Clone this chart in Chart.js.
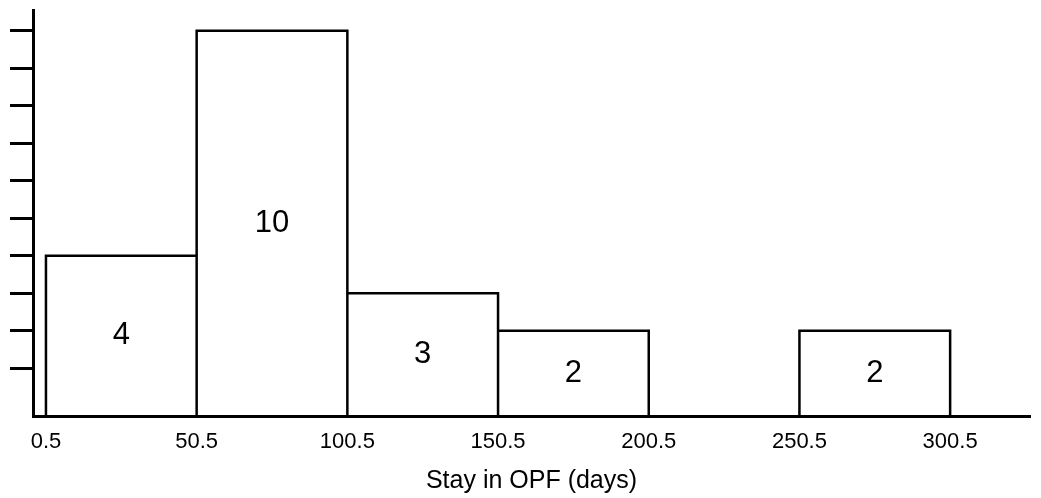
<!DOCTYPE html>
<html>
<head>
<meta charset="utf-8">
<script src="https://cdn.jsdelivr.net/npm/chart.js@4"></script>
<style>
  html, body { margin: 0; padding: 0; background: #fff; }
  #wrap { width: 1041px; height: 498px; }
</style>
</head>
<body>
<div id="wrap"><canvas id="c" width="1041" height="498"></canvas></div>
<script>
const binEdges = [0.5, 50.5, 100.5, 150.5, 200.5, 250.5, 300.5];
const counts = [4, 10, 3, 2, 0, 2];
const xTickValues = [0.5, 50.5, 100.5, 150.5, 200.5, 250.5, 300.5];
const yTickValues = [1, 2, 3, 4, 5, 6, 7, 8, 9, 10];
const xTitle = 'Stay in OPF (days)';

const Y_MIN = -0.27, Y_MAX = 10.55;
const FONT = '"Liberation Sans", Arial, sans-serif';

const outline = [];
counts.forEach((c, i) => {
  if (c <= 0) return;
  const l = binEdges[i], r = binEdges[i + 1];
  outline.push({x: l, y: Y_MIN}, {x: l, y: c}, {x: r, y: c}, {x: r, y: Y_MIN}, {x: r, y: null});
});

const barLabels = {
  id: 'barLabels',
  afterDatasetsDraw(chart) {
    const {ctx, scales: {x, y}} = chart;
    ctx.save();
    ctx.fillStyle = '#000';
    ctx.font = '31px ' + FONT;
    ctx.textAlign = 'center';
    ctx.textBaseline = 'middle';
    counts.forEach((c, i) => {
      if (c <= 0) return;
      const cx = x.getPixelForValue((binEdges[i] + binEdges[i + 1]) / 2);
      const cy = y.getPixelForValue((c + Y_MIN) / 2);
      ctx.fillText(String(c), cx, cy);
    });
    ctx.restore();
  }
};

new Chart(document.getElementById('c'), {
  type: 'scatter',
  data: {
    datasets: [{
      data: outline,
      showLine: true,
      spanGaps: false,
      borderColor: '#000',
      borderWidth: 2.5,
      pointRadius: 0,
      pointHoverRadius: 0,
      tension: 0
    }]
  },
  options: {
    responsive: false,
    animation: false,
    events: [],
    layout: { padding: { top: 10, right: 11, left: 0, bottom: 0 } },
    plugins: { legend: { display: false }, tooltip: { enabled: false } },
    scales: {
      x: {
        type: 'linear',
        min: -3.8,
        max: 327,
        afterBuildTicks(scale) { scale.ticks = xTickValues.map(v => ({value: v})); },
        afterFit(scale) { scale.height = 82; },
        grid: { display: false, drawTicks: false },
        border: { display: true, color: '#000', width: 3 },
        ticks: {
          color: '#000',
          font: { family: FONT, size: 22 },
          padding: 13,
          maxRotation: 0,
          autoSkip: false,
          callback: v => String(v)
        },
        title: {
          display: true,
          text: xTitle,
          color: '#000',
          font: { family: FONT, size: 25 },
          padding: { top: 0, bottom: 2 }
        }
      },
      y: {
        type: 'linear',
        min: Y_MIN,
        max: Y_MAX,
        afterBuildTicks(scale) { scale.ticks = yTickValues.map(v => ({value: v})); },
        afterFit(scale) { scale.width = 33; },
        grid: { drawOnChartArea: false, drawTicks: true, tickLength: 23, color: '#000', lineWidth: 3 },
        border: { display: true, color: '#000', width: 3 },
        ticks: { display: true, callback: () => '', padding: 0 }
      }
    }
  },
  plugins: [barLabels]
});
</script>
</body>
</html>
